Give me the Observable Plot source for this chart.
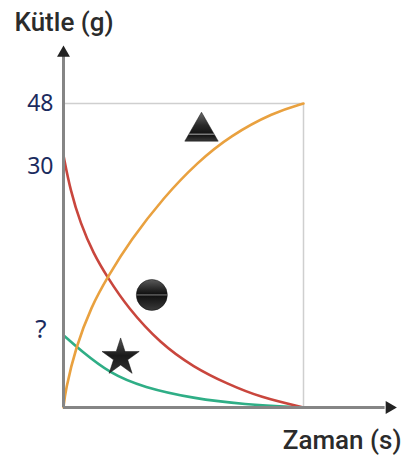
<!DOCTYPE html>
<html><head><meta charset="utf-8">
<script src="https://cdn.jsdelivr.net/npm/d3@7"></script>
<script src="https://cdn.jsdelivr.net/npm/@observablehq/plot@0.6"></script>
<style>body{margin:0;background:#fff}</style>
</head><body><div id="chart"></div>
<script>
// ---- data ----
const yTitle = "Kütle (g)";
const xTitle = "Zaman (s)";
const tickValues = [48, 30];
const tickLabels = ["48", "30"];
const unknownLabel = "?";

// circle substance (red), decreasing from 30 to 0
const redT = [0, 0.29, 0.71, 1.25, 1.83, 2.67, 4.04, 5.42, 6.83, 8.21, 10];
const redM = [30, 25.8, 21.9, 18.3, 15.5, 11.9, 7.6, 4.8, 2.8, 1.2, 0];
// triangle substance (orange), increasing from 0 to 48
const orangeT = [0, 0.08, 0.5, 1.17, 1.83, 2.79, 4.17, 5.58, 6.96, 8.75, 10];
const orangeM = [0, 2.0, 7.1, 12.1, 15.5, 19.9, 25.0, 29.2, 36.9, 44.9, 48];
// star substance (green), decreasing from "?" to 0
const greenT = [0, 0.71, 1.96, 3.33, 5.42, 7.5, 10];
const greenM = [8.6, 6.8, 4.0, 2.4, 1.07, 0.36, 0];

const symbolNames = ["triangle", "circle", "star"];
const symbolT = [5.75, 3.68, 2.38];
const symbolM = [38.3, 13.4, 5.95];

const tEnd = 10;        // end of the reaction (box right edge)
const mEnd = 48;        // box top
const xAxisEnd = 13.4;  // end of the time axis line
const xArrowT = 13.58;
const yAxisEnd = 64.6;
const yArrowM = 65.5;

// ---- build tables ----
const red = redT.map((t, i) => ({t, m: redM[i]}));
const orange = orangeT.map((t, i) => ({t, m: orangeM[i]}));
const green = greenT.map((t, i) => ({t, m: greenM[i]}));
const symbols = symbolNames.map((s, i) => ({s, t: symbolT[i], m: symbolM[i]}));
const ticks = tickValues.map((v, i) => ({v, label: tickLabels[i]}));

// the drawing is not to scale: 0–30 g takes far more room than 30–48 g
const brk = 30, lowSpan = 252, highSpan = 52;
const massTransform = m => m <= brk ? m * lowSpan / brk : lowSpan + (m - brk) * highSpan / (48 - brk);

const labelFont = "'Noto Sans', 'Open Sans', sans-serif";
const titleFont = "'Roboto', sans-serif";

const plot = Plot.plot({
  width: 405,
  height: 459,
  margin: 0,
  x: {domain: [0, 10], range: [63, 303], axis: null},
  y: {transform: massTransform, domain: [0, lowSpan + highSpan], range: [407, 103], axis: null},
  marks: [
    Plot.ruleY([mEnd], {x1: 0, x2: tEnd, stroke: "#cfcfcf", strokeWidth: 1.5}),
    Plot.ruleX([tEnd], {y1: 0, y2: mEnd, stroke: "#cfcfcf", strokeWidth: 1.5}),
    Plot.line(green, {x: "t", y: "m", stroke: "#2fae86", strokeWidth: 2.6, curve: "basis"}),
    Plot.line(red, {x: "t", y: "m", stroke: "#c9463d", strokeWidth: 2.6, curve: "basis"}),
    Plot.line(orange, {x: "t", y: "m", stroke: "#e9a13f", strokeWidth: 2.6, curve: "basis"}),
    Plot.ruleX([0], {y1: 0, y2: yAxisEnd, stroke: "#858585", strokeWidth: 3}),
    Plot.ruleY([0], {x1: 0, x2: xAxisEnd, stroke: "#858585", strokeWidth: 3}),
    Plot.dot([{t: 0, m: yArrowM}], {x: "t", y: "m", symbol: "triangle", r: 4.8, fill: "#222", stroke: "none"}),
    Plot.dot([{t: xArrowT, m: 0}], {x: "t", y: "m", symbol: "triangle", r: 4.8, fill: "#222", stroke: "none", rotate: 90}),
    Plot.dot(symbols.filter(d => d.s === "triangle"), {x: "t", y: "m", symbol: "s", r: 12.4, fill: "url(#glossTri)", stroke: "#111", strokeWidth: 0.5}),
    Plot.dot(symbols.filter(d => d.s === "circle"), {x: "t", y: "m", symbol: "s", r: 15.5, fill: "url(#glossCirc)", stroke: "#111", strokeWidth: 0.5}),
    Plot.dot(symbols.filter(d => d.s === "star"), {x: "t", y: "m", symbol: "s", r: 11.7, fill: "url(#glossStar)", stroke: "#111", strokeWidth: 0.5}),
    Plot.text(ticks.filter(d => d.v === 48), {x: 0, y: "v", text: "label", dx: -10, textAnchor: "end", fill: "#1b2b5e", fontSize: 23, fontFamily: labelFont}),
    Plot.text(ticks.filter(d => d.v === 30), {x: 0, y: "v", text: "label", dx: -10, dy: 11, textAnchor: "end", fill: "#1b2b5e", fontSize: 23, fontFamily: labelFont}),
    Plot.text([{t: 0, m: greenM[0], label: unknownLabel}], {x: "t", y: "m", text: "label", dx: -17, dy: -6, textAnchor: "end", fill: "#1b2b5e", fontSize: 26, fontFamily: labelFont}),
    Plot.text([yTitle], {frameAnchor: "top-left", dx: 14, dy: 22, textAnchor: "start", lineAnchor: "middle", fontSize: 26, fontWeight: 500, fill: "#2b2b2b", fontFamily: titleFont}),
    Plot.text([xTitle], {frameAnchor: "bottom-right", dx: -4, dy: -19, textAnchor: "end", lineAnchor: "middle", fontSize: 26, fontWeight: 500, fill: "#2b2b2b", fontFamily: titleFont})
  ]
});

// glossy gradients for the substance symbols
const ns = "http://www.w3.org/2000/svg";
const defs = document.createElementNS(ns, "defs");
function grad(id, stops) {
  const g = document.createElementNS(ns, "linearGradient");
  g.setAttribute("id", id);
  g.setAttribute("x1", "0"); g.setAttribute("y1", "0");
  g.setAttribute("x2", "0"); g.setAttribute("y2", "1");
  stops.forEach(([o, c]) => {
    const s = document.createElementNS(ns, "stop");
    s.setAttribute("offset", o); s.setAttribute("stop-color", c);
    g.appendChild(s);
  });
  defs.appendChild(g);
}
grad("glossTri", [["0", "#6a6a6a"], ["0.45", "#2a2a2a"], ["0.72", "#151515"], ["0.76", "#9a9a9a"], ["0.80", "#151515"], ["1", "#3a3a3a"]]);
grad("glossCirc", [["0", "#5a5a5a"], ["0.3", "#2a2a2a"], ["0.47", "#111"], ["0.5", "#888"], ["0.53", "#111"], ["1", "#3a3a3a"]]);
grad("glossStar", [["0", "#555"], ["0.5", "#1a1a1a"], ["1", "#333"]]);
plot.insertBefore(defs, plot.firstChild);

document.getElementById("chart").appendChild(plot);
</script>
</body></html>
